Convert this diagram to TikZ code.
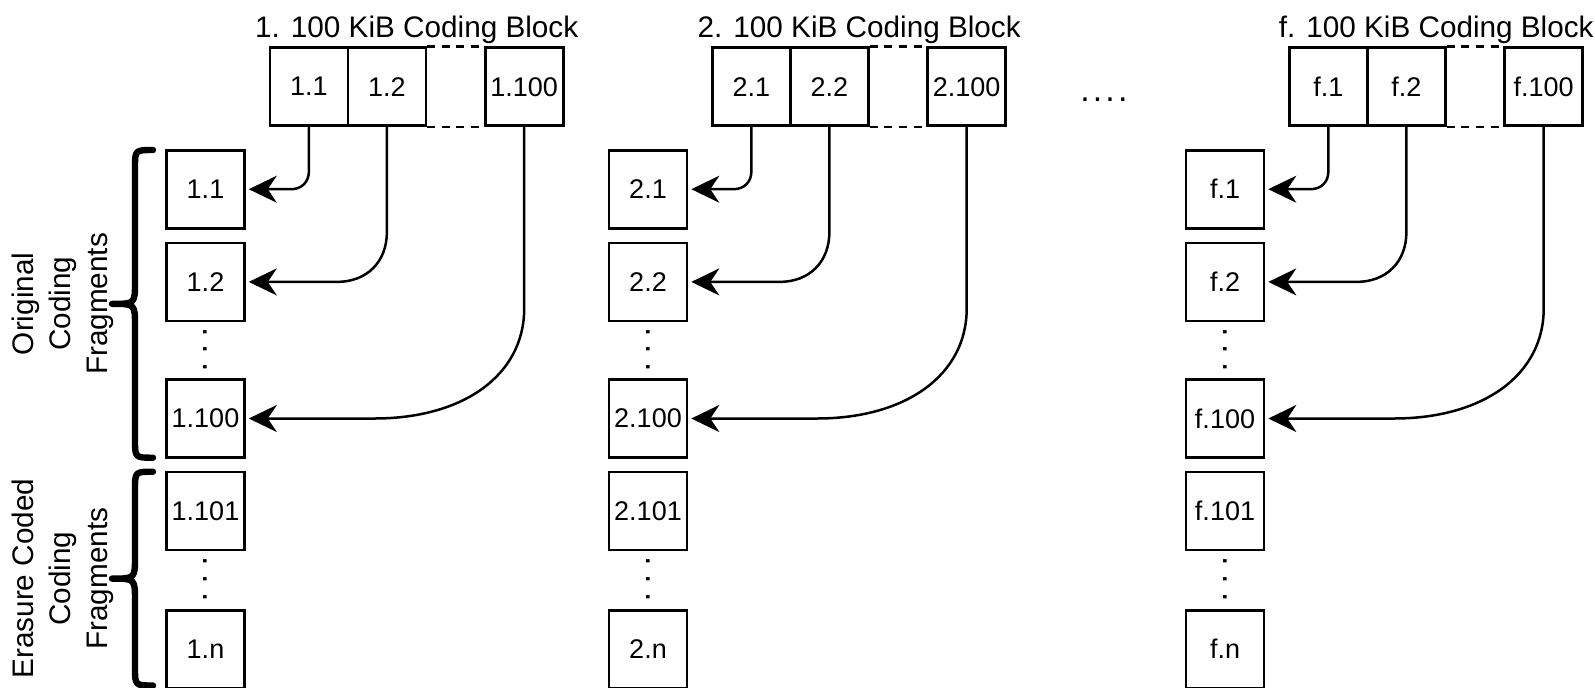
\documentclass[tikz,border=0pt]{standalone}
\usepackage{fontspec}
\setmainfont{Liberation Sans}
\usetikzlibrary{arrows.meta,calc}

\tikzset{
  cell/.style={draw, line width=1.3pt, minimum width=39pt, minimum height=39pt,
    inner sep=0pt, font=\fontsize{13.5}{15}\selectfont},
  heading/.style={anchor=base, inner sep=0pt, font=\fontsize{14.85}{17}\selectfont},
  sidelabel/.style={rotate=90, align=center, inner sep=0pt,
    font=\fontsize{14.85}{18.5}\selectfont},
  gapline/.style={line width=1.3pt, dash pattern=on 4pt off 3.3pt},
  feed/.style={line width=1.25pt, -{Stealth[length=14pt,width=13.5pt,inset=4.5pt]},
    shorten >=1.5pt},
  bracket/.style={line width=3.2pt, line cap=round, line join=round},
  ellipsis/.style={inner sep=0pt, font=\fontsize{17}{17}\selectfont},
}

\begin{document}
\begin{tikzpicture}[x=0.5pt, y=-0.5pt]
\useasboundingbox (0,0) rectangle (1595,687);

\foreach \g/\dx in {1/0, 2/442.5, f/1019.5} {
  % coding block: title and its cells
  \node[heading] (title\g) at (416.7+\dx, 37.5) {\g. 100 KiB Coding Block};
  \node[cell] (t\g-1) at (308.9+\dx, 86.7) {\g.1};
  \node[cell] (t\g-2) at (386.9+\dx, 86.7) {\g.2};
  \node[cell] (t\g-n) at (524.2+\dx, 86.7) {\g.100};
  \draw[gapline] (t\g-2.north east) -- (t\g-n.north west);
  \draw[gapline] (t\g-2.south east) -- (t\g-n.south west);

  % fragment column
  \node[cell] (f\g-1) at (205.5+\dx, 189.2) {\g.1};
  \node[cell] (f\g-2) at (205.5+\dx, 281.9) {\g.2};
  \node[cell] (f\g-c) at (205.5+\dx, 418.5) {\g.100};
  \node[cell] (f\g-d) at (205.5+\dx, 510.9) {\g.101};
  \node[cell] (f\g-n) at (205.5+\dx, 649.2) {\g.n};
  \node[ellipsis, rotate=-90] (va\g) at (205.5+\dx, 349.5) {.\kern4.12pt.\kern4.12pt.};
  \node[ellipsis, rotate=-90] (vb\g) at (205.5+\dx, 579.3) {.\kern4.12pt.\kern4.12pt.};

  % cells feeding the fragments
  \coordinate (k1) at (t\g-1.south |- f\g-1.east);
  \draw[feed] (t\g-1.south) -- ($(k1)+(0,-18)$)
    .. controls ($(k1)+(0,-7.2)$) and ($(k1)+(-7.2,0)$) .. ($(k1)+(-18,0)$) -- (f\g-1.east);
  \coordinate (k2) at (t\g-2.south |- f\g-2.east);
  \draw[feed] (t\g-2.south) -- ($(k2)+(0,-50)$)
    .. controls ($(k2)+(0,-20)$) and ($(k2)+(-20,0)$) .. ($(k2)+(-50,0)$) -- (f\g-2.east);
  \coordinate (k3) at (t\g-n.south |- f\g-c.east);
  \draw[feed] (t\g-n.south) -- ($(k3)+(0,-110)$)
    .. controls ($(k3)+(0,-44)$) and ($(k3)+(-60,0)$) .. ($(k3)+(-150,0)$) -- (f\g-c.east);
}

% gap between the second and the last block
\node[ellipsis] (more) at (1103.9, 99.3) {.\kern1.57pt.\kern1.57pt.\kern1.57pt.};

% braces grouping the fragments
\draw[bracket] (153,150) .. controls (135,150) .. (135,168) -- (135,281.85)
  .. controls (135,303.85) .. (112,303.85) .. controls (135,303.85) .. (135,325.85)
  -- (135,439.7) .. controls (135,457.7) .. (153,457.7);
\draw[bracket] (153,471.7) .. controls (135,471.7) .. (135,489.7) -- (135,556.6)
  .. controls (135,578.6) .. (112,578.6) .. controls (135,578.6) .. (135,600.6)
  -- (135,667.5) .. controls (135,685.5) .. (153,685.5);

\node[sidelabel] (orig) at (62.5, 303.85) {Original\\Coding\\Fragments};
\node[sidelabel] (erasure) at (62.5, 578.6) {Erasure Coded\\Coding\\Fragments};
\end{tikzpicture}
\end{document}
